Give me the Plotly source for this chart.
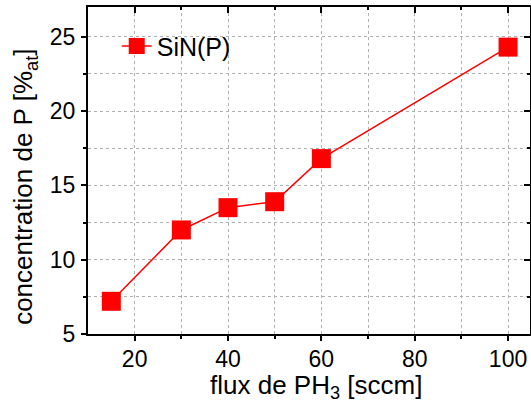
import plotly.graph_objects as go

flux = [15, 30, 40, 50, 60, 100]
conc_p = [7.2, 12.0, 13.5, 13.9, 16.8, 24.3]
series_name = "SiN(P)"
x_ticks = [20, 40, 60, 80, 100]
x_minor = [30, 50, 70, 90]
y_ticks = [5, 10, 15, 20, 25]
y_minor = [7.5, 12.5, 17.5, 22.5]
x_title = "flux de PH<sub>3</sub> [sccm]"
y_title = "concentration de P [%<sub>at</sub>]"

font = "Liberation Sans, Arial, sans-serif"
grid = "#b0b0b0"
X_RANGE = [10, 104.7]
Y_RANGE = [5, 27]

fig = go.Figure()
fig.add_trace(go.Scatter(
    x=flux, y=conc_p, mode="lines+markers", name=series_name,
    line=dict(color="#ff0000", width=1.5),
    marker=dict(symbol="square", size=19, color="#ff0000"),
))
fig.add_trace(go.Scatter(x=[None], y=[None], xaxis="x2", yaxis="y2", showlegend=False))

common = dict(showline=True, linecolor="black", linewidth=2, ticks="outside",
              ticklen=5, tickwidth=1.5, tickcolor="black", automargin=False,
              tickfont=dict(family=font, size=23, color="black"),
              showgrid=True, gridcolor=grid, griddash="dot", gridwidth=1,
              zeroline=False)

def minor(vals, where):
    d = dict(tickvals=vals, ticks=where, ticklen=3, tickwidth=1.5, tickcolor="black")
    if where == "outside":
        d.update(showgrid=True, gridcolor=grid, griddash="dot")
    return d

mirror = dict(showticklabels=False, ticks="inside", ticklen=6, tickwidth=1.5,
              tickcolor="black", showline=True, linecolor="black", linewidth=2,
              showgrid=False, zeroline=False, automargin=False)

fig.update_layout(
    width=531, height=405,
    margin=dict(l=88, r=1, t=7, b=71),
    plot_bgcolor="white", paper_bgcolor="white",
    font=dict(family=font, size=24, color="black"),
    xaxis=dict(range=X_RANGE, tickvals=x_ticks, minor=minor(x_minor, "outside"),
               ticklabelstandoff=-2, **common),
    yaxis=dict(range=Y_RANGE, tickvals=y_ticks, minor=minor(y_minor, "outside"),
               ticklabelstandoff=1, **common),
    xaxis2=dict(overlaying="x", side="top", range=X_RANGE, tickvals=x_ticks,
                minor=minor(x_minor, "inside"), **mirror),
    yaxis2=dict(overlaying="y", side="right", range=Y_RANGE, tickvals=y_ticks,
                minor=minor(y_minor, "inside"), **mirror),
    legend=dict(x=0.065, y=0.95, xanchor="left", yanchor="top",
                bgcolor="rgba(0,0,0,0)", font=dict(family=font, size=25)),
    showlegend=True,
    annotations=[
        dict(text=x_title, xref="paper", yref="paper", x=0.515, y=-0.16,
             xanchor="center", yanchor="middle", showarrow=False,
             font=dict(family=font, size=26)),
        dict(text=y_title, xref="paper", yref="paper", x=-0.1425, y=0.45,
             xanchor="center", yanchor="middle", showarrow=False, textangle=-90,
             font=dict(family=font, size=26)),
    ],
)

fig.write_html("out.html", config={"displayModeBar": False},
               post_script="document.body.style.margin='0';document.body.style.overflow='hidden';")
